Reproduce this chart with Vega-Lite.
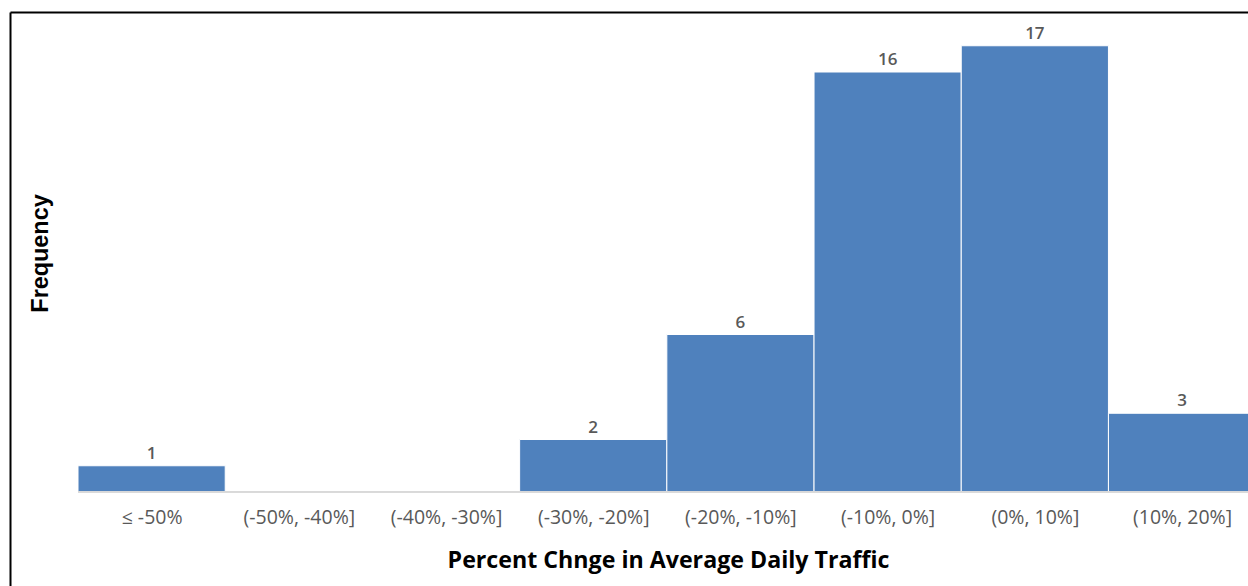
{
  "$schema": "https://vega.github.io/schema/vega-lite/v6.json",
  "width": 1238,
  "height": 574,
  "autosize": {"type": "none"},
  "padding": {"left": 10, "top": 12, "right": 0, "bottom": 0},
  "background": "white",
  "config": {"view": {"stroke": null}},
  "data": {
    "values": [
      {"bin": "≤ -50%", "start": -60, "mid": -55, "end": -50, "count": 1},
      {"bin": "(-50%, -40%]", "start": -50, "mid": -45, "end": -40, "count": 0},
      {"bin": "(-40%, -30%]", "start": -40, "mid": -35, "end": -30, "count": 0},
      {"bin": "(-30%, -20%]", "start": -30, "mid": -25, "end": -20, "count": 2},
      {"bin": "(-20%, -10%]", "start": -20, "mid": -15, "end": -10, "count": 6},
      {"bin": "(-10%, 0%]", "start": -10, "mid": -5, "end": 0, "count": 16},
      {"bin": "(0%, 10%]", "start": 0, "mid": 5, "end": 10, "count": 17},
      {"bin": "(10%, 20%]", "start": 10, "mid": 15, "end": 20, "count": 3}
    ]
  },
  "resolve": {"axis": {"x": "independent"}},
  "layer": [
    {
      "transform": [{"filter": "datum.count > 0"}],
      "mark": {"type": "rect", "color": "#4f81bd", "stroke": "white", "strokeWidth": 1, "clip": true},
      "encoding": {
        "x": {
          "field": "start",
          "type": "quantitative",
          "scale": {"domain": [-64.62, 19.48], "nice": false, "zero": false},
          "axis": {
            "orient": "bottom",
            "offset": -94,
            "values": [-55, -45, -35, -25, -15, -5, 5, 15],
            "labelExpr": "['≤ -50%', '(-50%, -40%]', '(-40%, -30%]', '(-30%, -20%]', '(-20%, -10%]', '(-10%, 0%]', '(0%, 10%]', '(10%, 20%]'][round((datum.value + 55) / 10)]",
            "domain": false,
            "ticks": false,
            "grid": false,
            "labelFont": "Open Sans",
            "labelFontSize": 19.5,
            "labelColor": "#595959",
            "labelBaseline": "top",
            "labelPadding": 16,
            "labelFlush": false,
            "labelOverlap": false,
            "title": "Percent Chnge in Average Daily Traffic",
            "titleFont": "Open Sans",
            "titleFontWeight": "bold",
            "titleFontSize": 23.2,
            "titleColor": "black",
            "titleAnchor": null,
            "titleAlign": "center",
            "titleBaseline": "alphabetic",
            "titleX": 658,
            "titleY": 75
          }
        },
        "x2": {"field": "end"},
        "y": {
          "field": "count",
          "type": "quantitative",
          "scale": {"domain": [-3.581, 18.286], "nice": false, "zero": false},
          "axis": {
            "orient": "left",
            "domain": true,
            "domainColor": "black",
            "domainWidth": 2,
            "ticks": false,
            "labels": false,
            "grid": false,
            "title": "Frequency",
            "titleFont": "Liberation Sans",
            "titleFontWeight": "bold",
            "titleFontSize": 23.4,
            "titleColor": "black",
            "titleAngle": 270,
            "titleAlign": "center",
            "titleBaseline": "alphabetic",
            "titleAnchor": null,
            "titleX": 37,
            "titleY": 241
          }
        },
        "y2": {"datum": 0}
      }
    },
    {
      "mark": {"type": "rule", "color": "#d9d9d9", "strokeWidth": 1, "clip": true},
      "encoding": {
        "x": {
          "datum": -60,
          "type": "quantitative",
          "axis": {
            "orient": "top",
            "domain": true,
            "domainColor": "black",
            "domainWidth": 2,
            "ticks": false,
            "labels": false,
            "grid": false,
            "title": null
          }
        },
        "x2": {"datum": 20},
        "y": {"datum": 0, "type": "quantitative"}
      }
    },
    {
      "transform": [{"filter": "datum.count > 0"}],
      "mark": {
        "type": "text",
        "font": "Open Sans",
        "fontWeight": 600,
        "fontSize": 17,
        "color": "#595959",
        "align": "center",
        "baseline": "alphabetic",
        "dy": -7
      },
      "encoding": {
        "x": {"field": "mid", "type": "quantitative", "axis": null},
        "y": {"field": "count", "type": "quantitative"},
        "text": {"field": "count", "type": "quantitative"}
      }
    }
  ]
}
